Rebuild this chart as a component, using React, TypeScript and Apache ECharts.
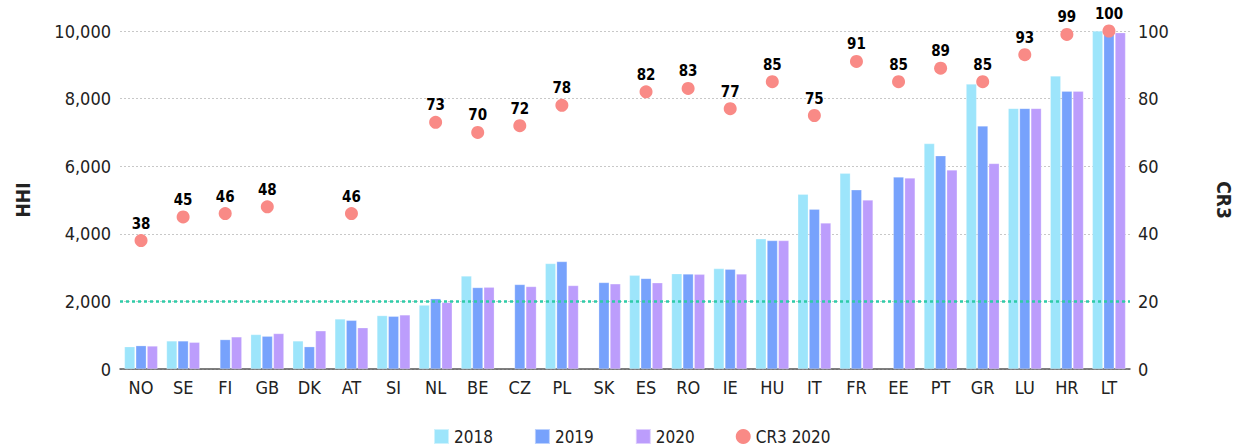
import React, { useEffect, useRef } from "react";
import * as echarts from "echarts";

const categories = ["NO", "SE", "FI", "GB", "DK", "AT", "SI", "NL", "BE", "CZ", "PL", "SK", "ES", "RO", "IE", "HU", "IT", "FR", "EE", "PT", "GR", "LU", "HR", "LT"];
const hhi2018 = [660, 830, null, 1020, 830, 1480, 1580, 1890, 2750, null, 3120, null, 2770, 2820, 2970, 3850, 5170, 5790, null, 6670, 8430, 7710, 8670, 10000];
const hhi2019 = [690, 830, 870, 970, 660, 1440, 1560, 2080, 2410, 2500, 3180, 2560, 2680, 2810, 2950, 3800, 4730, 5300, 5680, 6310, 7190, 7710, 8220, 9970];
const hhi2020 = [680, 790, 950, 1050, 1130, 1220, 1600, 1970, 2420, 2440, 2470, 2520, 2550, 2800, 2810, 3800, 4320, 5000, 5650, 5890, 6080, 7710, 8220, 9950];
const cr3_2020 = [38, 45, 46, 48, null, 46, null, 73, 70, 72, 78, null, 82, 83, 77, 85, 75, 91, 85, 89, 85, 93, 99, 100];
const thresholdHHI = 2000;

const FONT = "'DejaVu Sans Condensed', 'Liberation Sans', Arial, sans-serif";

export default function App() {
  const ref = useRef<HTMLDivElement>(null);
  useEffect(() => {
    const chart = echarts.init(ref.current!, null, { renderer: "svg" });
    const barSeries = (name: string, data: (number | null)[], color: string) => ({
      name,
      type: "bar",
      data,
      barWidth: 10.5,
      barGap: "8%",
      itemStyle: { color, borderColor: "rgba(255,255,255,0.5)", borderWidth: 0.5 },
    });
    chart.setOption({
      animation: false,
      textStyle: { fontFamily: FONT },
      grid: { left: 120, right: 100, top: 31, bottom: 77 },
      legend: {
        top: 428,
        left: 433,
        itemWidth: 15,
        itemHeight: 15,
        itemGap: 41,
        padding: 0,
        textStyle: { fontSize: 17, color: "#222", fontFamily: FONT },
        data: [
          { name: "2018", icon: "rect" },
          { name: "2019", icon: "rect" },
          { name: "2020", icon: "rect" },
          { name: "CR3 2020", icon: "circle" },
        ],
      },
      xAxis: {
        type: "category",
        data: categories,
        axisLine: { lineStyle: { color: "#555", width: 1.5 } },
        axisTick: { show: false },
        axisLabel: { fontSize: 18, color: "#222", margin: 9, fontFamily: FONT },
      },
      yAxis: [
        {
          type: "value",
          min: 0,
          max: 10000,
          interval: 2000,
          name: "HHI",
          nameLocation: "middle",
          nameGap: 88,
          nameTextStyle: { fontSize: 19, fontWeight: "bold", color: "#222", fontFamily: FONT },
          axisLabel: {
            fontSize: 18,
            color: "#222",
            margin: 9,
            fontFamily: FONT,
            formatter: (v: number) => v.toLocaleString("en-US"),
          },
          axisLine: { show: false },
          axisTick: { show: false },
          splitLine: { lineStyle: { color: "#c8c8c8", type: [2, 2], width: 1 } },
        },
        {
          type: "value",
          min: 0,
          max: 100,
          interval: 20,
          name: "CR3",
          nameLocation: "middle",
          nameRotate: -90,
          nameGap: 84,
          nameTextStyle: { fontSize: 19, fontWeight: "bold", color: "#222", fontFamily: FONT },
          axisLabel: { fontSize: 18, color: "#222", margin: 8, fontFamily: FONT },
          axisLine: { show: false },
          axisTick: { show: false },
          splitLine: { show: false },
        },
      ],
      series: [
        {
          ...barSeries("2018", hhi2018, "#9de5fb"),
          markLine: {
            silent: true,
            symbol: "none",
            label: { show: false },
            lineStyle: { color: "#2fcca8", type: [3, 3], width: 2.5 },
            data: [{ yAxis: thresholdHHI }],
          },
        },
        barSeries("2019", hhi2019, "#77a2fc"),
        barSeries("2020", hhi2020, "#bc9dfc"),
        {
          name: "CR3 2020",
          type: "scatter",
          yAxisIndex: 1,
          data: cr3_2020,
          symbolSize: 13,
          itemStyle: { color: "#f98a86", opacity: 1 },
          label: {
            show: true,
            position: "top",
            distance: 3,
            fontSize: 15,
            fontWeight: "bold",
            color: "#000",
            fontFamily: FONT,
          },
          z: 5,
        },
      ],
    });
    return () => chart.dispose();
  }, []);
  return (
    <div
      ref={ref}
      style={{ position: "absolute", left: 0, top: 0, width: 1241, height: 446, background: "#fff" }}
    />
  );
}
